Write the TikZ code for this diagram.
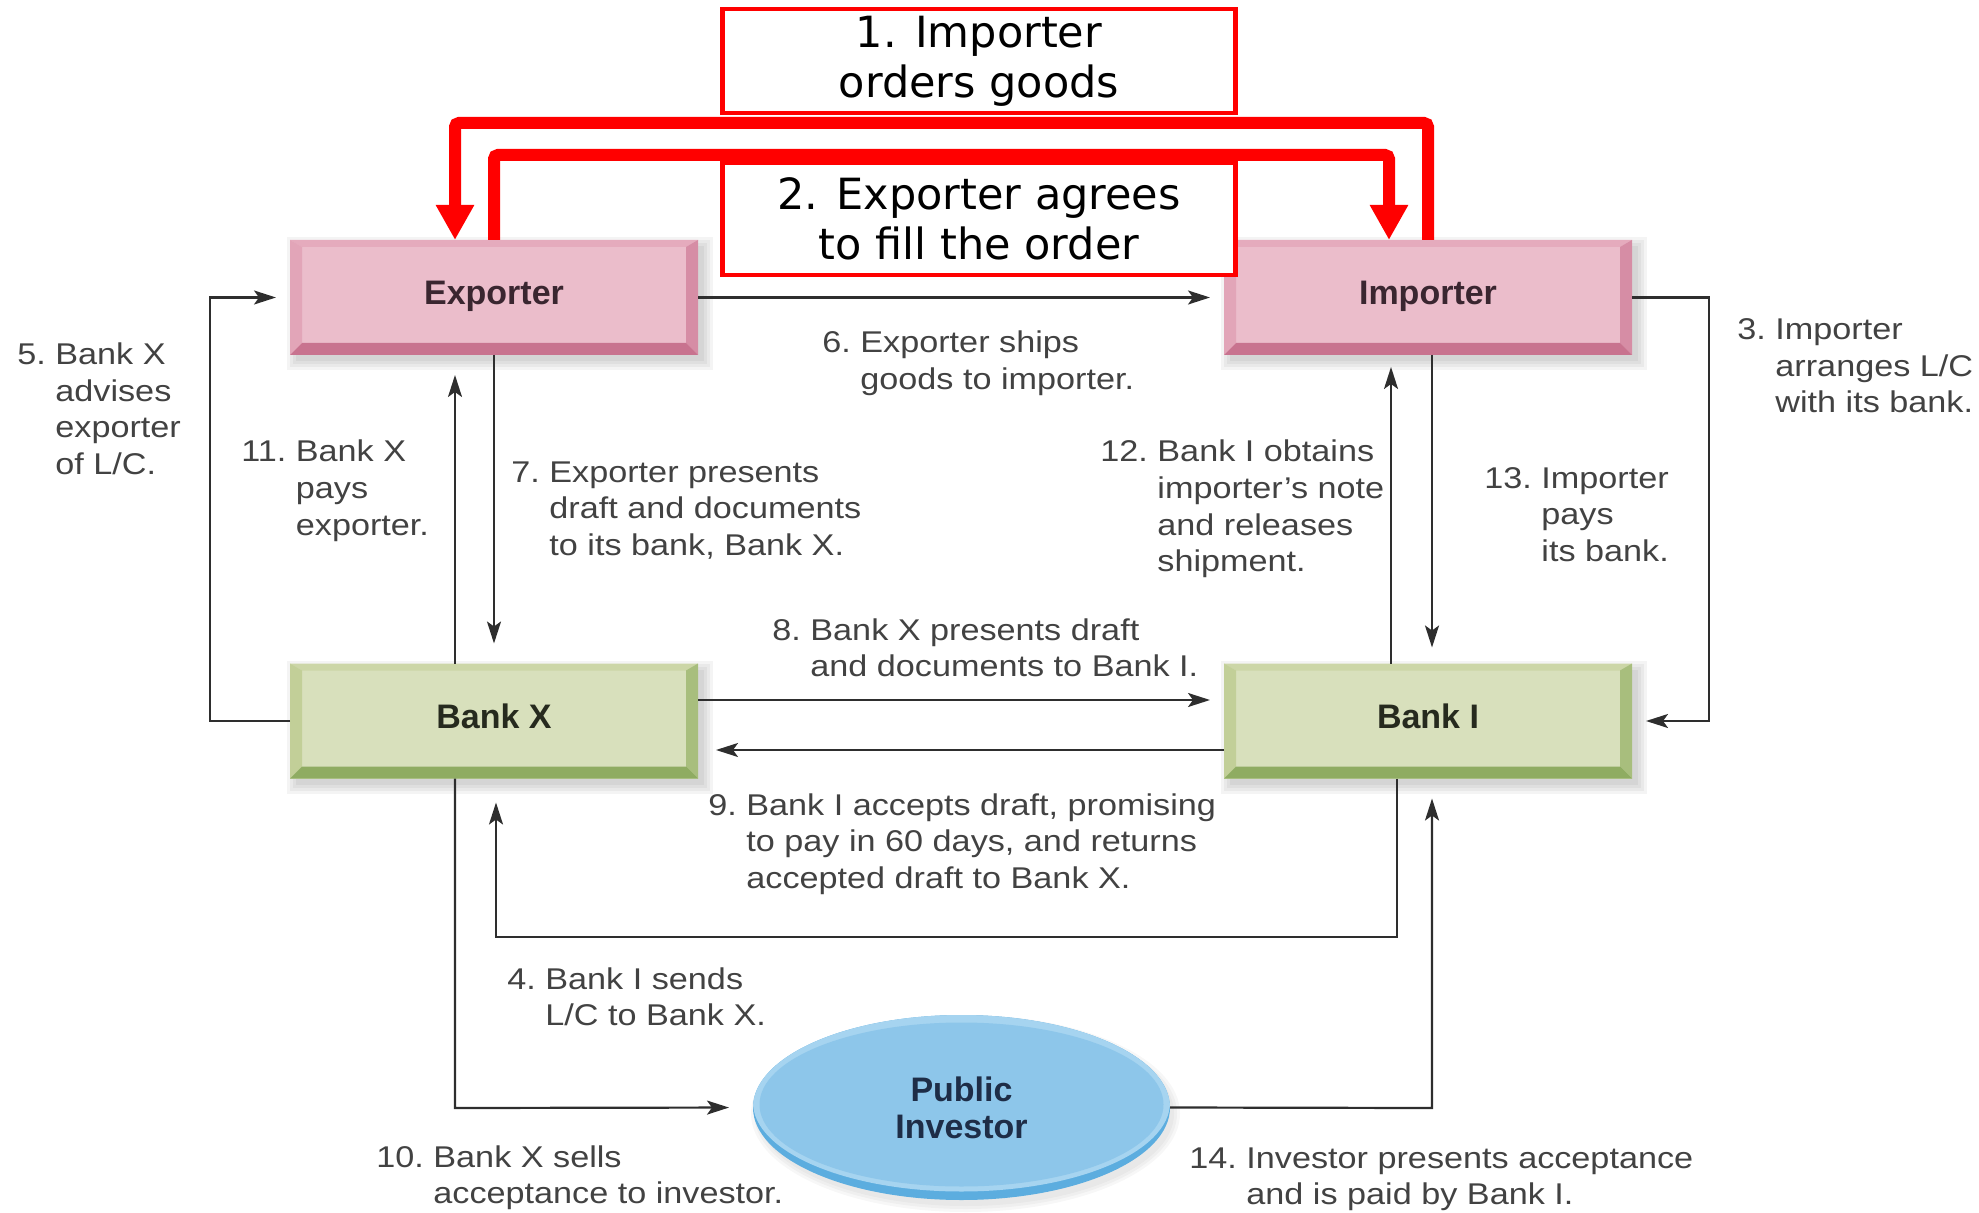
\documentclass[tikz,border=0pt]{standalone}
\usepackage{fontspec}
\setmainfont{Liberation Sans}
\newfontfamily\lblfont[FakeStretch=1.14]{Liberation Sans}
\newfontfamily\redfont{DejaVu Sans}
\usetikzlibrary{arrows.meta,shapes.geometric,backgrounds}

\definecolor{pinkface}{HTML}{EBBDCB}
\definecolor{pinktop}{HTML}{E5ABBD}
\definecolor{pinkleft}{HTML}{E2A5B8}
\definecolor{pinkright}{HTML}{D68DA5}
\definecolor{pinkbot}{HTML}{C8738F}
\definecolor{pinktext}{HTML}{3A2630}
\definecolor{greenface}{HTML}{D8E0BC}
\definecolor{greentop}{HTML}{CCD6A7}
\definecolor{greenleft}{HTML}{C2CF98}
\definecolor{greenright}{HTML}{A8BE7D}
\definecolor{greenbot}{HTML}{8FAC62}
\definecolor{greentext}{HTML}{262A1E}
\definecolor{bluedark}{HTML}{5CADDF}
\definecolor{bluerim}{HTML}{A6D4F0}
\definecolor{blueface}{HTML}{8DC6EA}
\definecolor{navytext}{HTML}{1E2D47}
\definecolor{redc}{HTML}{FF0000}
\definecolor{linec}{HTML}{2E2E2E}
\definecolor{lblc}{HTML}{424242}

% bevelled faces of a box: top, left, right, bottom
\newcommand\bevelfaces[4]{%
  \path (path picture bounding box.north west) coordinate (bNW)
        (path picture bounding box.north east) coordinate (bNE)
        (path picture bounding box.south west) coordinate (bSW)
        (path picture bounding box.south east) coordinate (bSE);
  \path ([shift={(6pt,-3.5pt)}]bNW) coordinate (iNW)
        ([shift={(-6pt,-3.5pt)}]bNE) coordinate (iNE)
        ([shift={(6pt,6pt)}]bSW) coordinate (iSW)
        ([shift={(-6pt,6pt)}]bSE) coordinate (iSE);
  \fill[#1] (bNW) -- (bNE) -- (iNE) -- (iNW) -- cycle;
  \fill[#2] (bNW) -- (iNW) -- (iSW) -- (bSW) -- cycle;
  \fill[#3] (bNE) -- (bSE) -- (iSE) -- (iNE) -- cycle;
  \fill[#4] (bSW) -- (iSW) -- (iSE) -- (bSE) -- cycle;
}

% numbered step text with a hanging indent
\newcommand\numlabel[2]{\begin{tabular}[t]{@{}r@{\ }l@{}}#1 & #2\end{tabular}}

\tikzset{
  boxbase/.style={rectangle, minimum width=204pt, minimum height=57.5pt,
    inner sep=0pt, outer sep=0pt, font=\bfseries\fontsize{17}{20}\selectfont,
    text height=7.2pt, text depth=0pt},
  pinkbox/.style={boxbase, fill=pinkface, text=pinktext,
    path picture={\bevelfaces{pinktop}{pinkleft}{pinkright}{pinkbot}}},
  greenbox/.style={boxbase, fill=greenface, text=greentext,
    path picture={\bevelfaces{greentop}{greenleft}{greenright}{greenbot}}},
  investor/.style={ellipse, minimum width=208.5pt, minimum height=92.5pt,
    inner sep=0pt, outer sep=0pt, fill=bluedark, text=navytext, align=center,
    font=\bfseries\fontsize{17}{18.5}\selectfont,
    path picture={
      \fill[bluerim] ([yshift=2.5pt]path picture bounding box.center) ellipse (104.25pt and 44.5pt);
      \fill[blueface] ([yshift=1.5pt]path picture bounding box.center) ellipse (101pt and 41pt);}},
  lbl/.style={font=\lblfont\fontsize{15}{18.25}\selectfont, text=lblc,
    inner sep=0pt, anchor=base west},
  conn/.style={draw=linec, line width=1.1pt,
    -{Stealth[length=11pt,width=7pt,inset=2.5pt]}, shorten >=7pt},
  redline/.style={draw=redc, line width=6pt, rounded corners=2pt,
    -{Triangle[length=17.5pt,width=18pt]}},
  redbox/.style={draw=redc, line width=2.4pt, fill=white, minimum width=256.5pt,
    inner sep=0pt, align=center, font=\redfont\fontsize{21.5}{25}\selectfont},
  shadowlayer/.style={fill=black, fill opacity=0.045},
}

\begin{document}
\begin{tikzpicture}[x=0.5pt,y=-0.5pt]
\useasboundingbox (0,0) rectangle (1979,1213);

% parties
\node[pinkbox] (exp) at (494,297.5) {Exporter};
\node[pinkbox] (imp) at (1428,297.5) {Importer};
\node[greenbox] (bx) at (494,721) {Bank X};
\node[greenbox] (bi) at (1428,721) {Bank I};
\node[investor] (inv) at (961.5,1107.5) {Public\\Investor};

% soft shadows behind the parties
\begin{scope}[on background layer]
  \foreach \n in {exp,imp,bx,bi}{
    \foreach \g in {0,1.5,3,4.5}{
      \fill[shadowlayer] ([shift={(3pt-\g pt,-3pt-\g pt)}]\n.south west)
        rectangle ([shift={(3pt+\g pt,-3pt+\g pt)}]\n.north east);
    }
  }
  \foreach \g in {0,1.5,3}{
    \fill[shadowlayer, fill opacity=0.03] ([shift={(2pt,-3pt)}]inv.center)
      ellipse ({104.25pt+\g pt} and {46.25pt+\g pt});
  }
\end{scope}

% bends of the connectors
\coordinate (k5) at (210,0);
\coordinate (k3) at (1709,0);
\coordinate (k11) at (455,0);
\coordinate (k12) at (1391,0);
\coordinate (k13) at (1432,0);
\coordinate (k8) at (0,700);
\coordinate (k9) at (0,750);
\coordinate (k4a) at (1397,937);
\coordinate (k4b) at (496,937);
\coordinate (k10) at (455,1108);
\coordinate (k14) at (1432,1108);
\coordinate (o1) at (455,123);
\coordinate (o2) at (1389,155);

% flows between the parties
\draw[conn] (exp.east) -- (imp.west);
\draw[conn] (bx.west) -- (bx.west -| k5) -- (exp.west -| k5) -- (exp.west);
\draw[conn] (imp.east) -- (imp.east -| k3) -- (bi.east -| k3) -- (bi.east);
\draw[conn, shorten >=10pt] (bx.north -| k11) -- (exp.south -| k11);
\draw[conn, shorten >=10pt] (exp.south) -- (bx.north);
\draw[conn, shorten >=6pt] (bi.north -| k12) -- (imp.south -| k12);
\draw[conn, shorten >=8pt] (imp.south -| k13) -- (bi.north -| k13);
\draw[conn] (bx.east |- k8) -- (bi.west |- k8);
\draw[conn, shorten >=9pt] (bi.west |- k9) -- (bx.east |- k9);
\draw[conn, shorten >=12pt] (bi.south -| k4a) -- (k4a) -- (k4b) -- (bx.south -| k4b);
\draw[conn, shorten >=12pt] (bx.south -| k10) -- (k10) -- (inv.west);
\draw[conn, shorten >=10pt] (inv.east) -- (k14) -- (bi.south -| k14);

% order and acceptance of the order
\draw[redline] (imp.north) -- (imp.north |- o1) -- (o1) -- (o1 |- exp.north);
\draw[redline] (exp.north) -- (exp.north |- o2) -- (o2) -- (o2 |- imp.north);
\node[redbox, minimum height=52pt] (r1) at (979,61) {1. Importer\\orders goods};
\node[redbox, minimum height=56pt] (r2) at (979,219) {2. Exporter agrees\\to fill the order};

% step descriptions
\node[lbl] (t3) at (1737,340) {\numlabel{3.}{Importer\\ & arranges L/C\\ & with its bank.}};
\node[lbl] (t4) at (507,989) {\numlabel{4.}{Bank I sends\\ & L/C to Bank X.}};
\node[lbl] (t5) at (17,365) {\numlabel{5.}{Bank X\\ & advises\\ & exporter\\ & of L/C.}};
\node[lbl] (t6) at (822,353) {\numlabel{6.}{Exporter ships\\ & goods to importer.}};
\node[lbl] (t7) at (511,482) {\numlabel{7.}{Exporter presents\\ & draft and documents\\ & to its bank, Bank X.}};
\node[lbl] (t8) at (772,640) {\numlabel{8.}{Bank X presents draft\\ & and documents to Bank I.}};
\node[lbl] (t9) at (708,815) {\numlabel{9.}{Bank I accepts draft, promising\\ & to pay in 60 days, and returns\\ & accepted draft to Bank X.}};
\node[lbl] (t10) at (376,1167) {\numlabel{10.}{Bank X sells\\ & acceptance to investor.}};
\node[lbl] (t11) at (241,462) {\numlabel{11.}{Bank X\\ & pays\\ & exporter.}};
\node[lbl] (t12) at (1100,462) {\numlabel{12.}{Bank I obtains\\ & importer’s note\\ & and releases\\ & shipment.}};
\node[lbl] (t13) at (1484,488) {\numlabel{13.}{Importer\\ & pays\\ & its bank.}};
\node[lbl] (t14) at (1189,1168) {\numlabel{14.}{Investor presents acceptance\\ & and is paid by Bank I.}};
\end{tikzpicture}
\end{document}
